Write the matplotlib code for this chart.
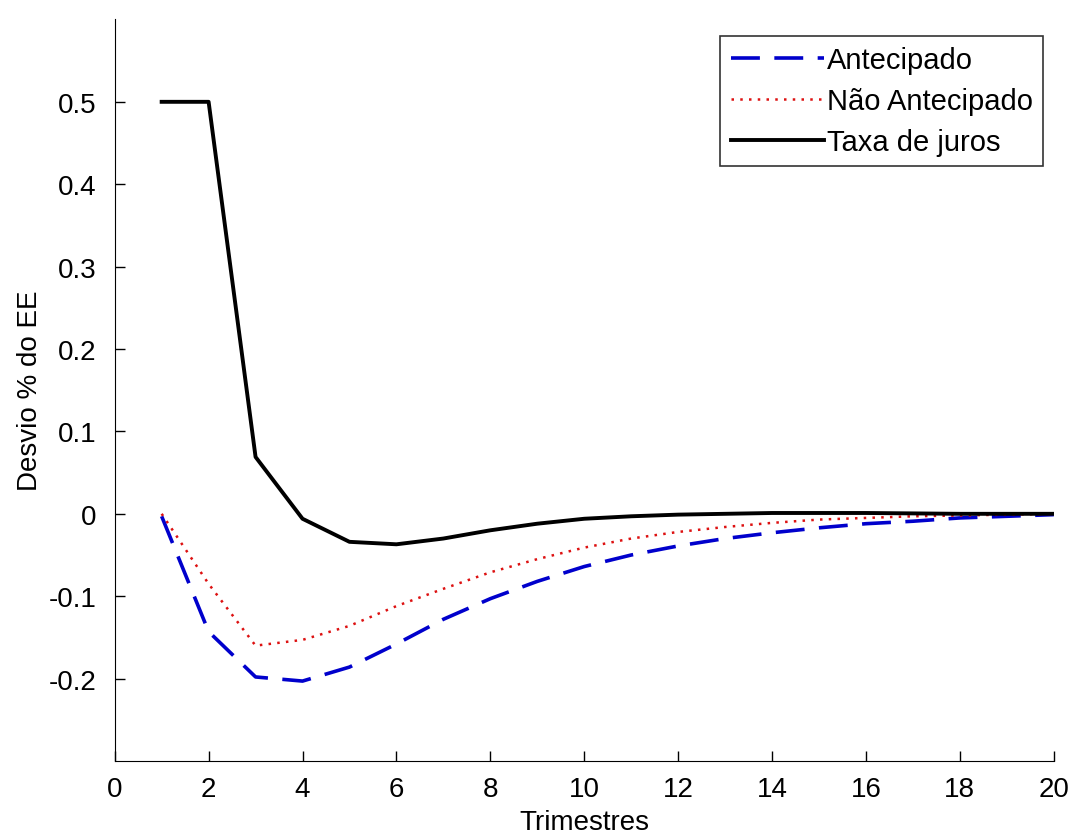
import numpy as np
import matplotlib
matplotlib.use("Agg")
import matplotlib.pyplot as plt

plt.rcParams['font.family'] = ['Liberation Sans', 'DejaVu Sans']
plt.rcParams['xtick.direction'] = 'in'
plt.rcParams['ytick.direction'] = 'in'

# trimestres 1..20
trimestres = np.arange(1, 21)

antecipado = [-0.003, -0.143, -0.198, -0.203, -0.186, -0.158, -0.128, -0.103, -0.082, -0.064,
              -0.050, -0.039, -0.030, -0.023, -0.017, -0.012, -0.009, -0.005, -0.003, -0.001]
nao_antecipado = [0.0, -0.085, -0.160, -0.153, -0.136, -0.112, -0.091, -0.071, -0.055, -0.041,
                  -0.030, -0.022, -0.016, -0.011, -0.007, -0.005, -0.003, -0.002, -0.001, 0.0]
taxa_juros = [0.5, 0.5, 0.069, -0.006, -0.034, -0.037, -0.030, -0.020, -0.012, -0.006,
              -0.003, -0.001, 0.0, 0.001, 0.001, 0.001, 0.0005, 0.0, 0.0, 0.0]

fig = plt.figure(figsize=(10.72, 8.37), dpi=100)
ax = fig.add_axes([0.107, 0.0896, 0.876, 0.886])

ax.plot(trimestres, antecipado, color='#0000cc', lw=2.6, linestyle=(0, (8, 4)), label='Antecipado')
ax.plot(trimestres, nao_antecipado, color='#dd1111', lw=1.8, linestyle=(0, (1, 2.5)), label='Não Antecipado')
ax.plot(trimestres, taxa_juros, color='black', lw=2.8, label='Taxa de juros')

ax.set_xlim(0, 20)
ax.set_ylim(-0.3, 0.6)
ax.set_xticks(np.arange(0, 21, 2))
ax.set_yticks([-0.2, -0.1, 0, 0.1, 0.2, 0.3, 0.4, 0.5])
ax.set_yticklabels(['-0.2', '-0.1', '0', '0.1', '0.2', '0.3', '0.4', '0.5'])
ax.tick_params(axis='both', direction='in', length=7, width=1, labelsize=20)
ax.tick_params(axis='y', pad=13)
ax.tick_params(axis='x', pad=11)
ax.spines['top'].set_visible(False)
ax.spines['right'].set_visible(False)
ax.set_xlabel('Trimestres', fontsize=20, labelpad=5)
ax.set_ylabel('Desvio % do EE', fontsize=20, labelpad=4)

leg = ax.legend(loc='upper right', bbox_to_anchor=(0.9885, 0.978), fontsize=21, frameon=True,
                fancybox=False, edgecolor='black', handlelength=3.2, handletextpad=0.1,
                borderpad=0.35, labelspacing=0.45, borderaxespad=0)
leg.get_frame().set_linewidth(1.2)

fig.savefig('out.png', dpi=100)
